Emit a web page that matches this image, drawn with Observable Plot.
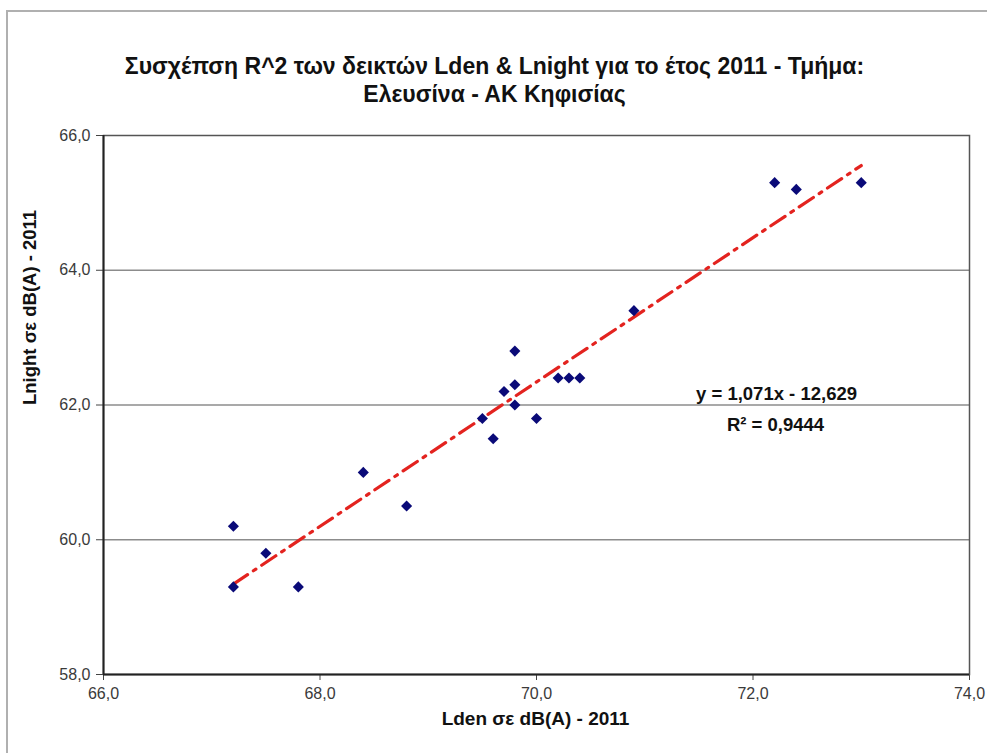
<!DOCTYPE html>
<html>
<head>
<meta charset="utf-8">
<script src="https://cdn.jsdelivr.net/npm/d3@7"></script>
<script src="https://cdn.jsdelivr.net/npm/@observablehq/plot@0.6"></script>
<style>
  html, body { margin: 0; padding: 0; background: #fff; }
  #wrap { position: relative; width: 987px; height: 753px; overflow: hidden; }
  #border { position: absolute; left: 6px; top: 10px; width: 1100px; height: 900px; border: 2px solid #b0b0b0; box-sizing: border-box; pointer-events: none; }
</style>
</head>
<body>
<div id="wrap"><div id="border"></div></div>
<script>
const titleLines = ["Συσχέπση R^2 των δεικτών Lden & Lnight για το έτος 2011 - Τμήμα:", "Ελευσίνα - ΑΚ Κηφισίας"];
const xLabel = "Lden σε dB(A) - 2011";
const yLabel = "Lnight σε dB(A) - 2011";
const xTicks = [66, 68, 70, 72, 74];
const yTicks = [58, 60, 62, 64, 66];
const gridY = [60, 62, 64];

const lden =   [67.2, 67.2, 67.5, 67.8, 68.4, 68.8, 69.5, 69.6, 69.7, 69.8, 69.8, 69.8, 70.0, 70.2, 70.3, 70.4, 70.9, 72.2, 72.4, 73.0];
const lnight = [60.2, 59.3, 59.8, 59.3, 61.0, 60.5, 61.8, 61.5, 62.2, 62.3, 62.8, 62.0, 61.8, 62.4, 62.4, 62.4, 63.4, 65.3, 65.2, 65.3];

const slope = 1.071;
const intercept = -12.629;
const r2 = 0.9444;

const points = lden.map((x, i) => ({x, y: lnight[i]}));
const xMin = d3.min(lden), xMax = d3.max(lden);
const trend = [xMin, xMax].map(x => ({x, y: slope * x + intercept}));
const fmt = d => d.toFixed(1).replace(".", ",");
const fmt3 = d => Math.abs(d).toFixed(3).replace(".", ",");
const eq1 = `y = ${fmt3(slope)}x - ${fmt3(intercept)}`;
const eq2 = `R² = ${String(r2).replace(".", ",")}`;

const font = "'Liberation Sans', Arial, sans-serif";

const chart = Plot.plot({
  width: 987,
  height: 753,
  marginLeft: 103,
  marginRight: 18,
  marginTop: 135,
  marginBottom: 79,
  style: {fontFamily: font, fontSize: "16px", color: "#333", background: "transparent"},
  x: {domain: [66, 74]},
  y: {domain: [58, 66]},
  marks: [
    Plot.ruleY(gridY, {stroke: "#8c8c8c", strokeWidth: 1.5}),
    Plot.axisX({ticks: xTicks, tickFormat: fmt, tickSize: 6, tickPadding: 7, label: null, fontSize: 16, fill: "#3a3a3a", stroke: "#444"}),
    Plot.axisY({ticks: yTicks, tickFormat: fmt, tickSize: 7, tickPadding: 6, label: null, fontSize: 16, fill: "#3a3a3a", stroke: "#444"}),
    Plot.frame({stroke: "#555", strokeWidth: 1.5}),
    Plot.ruleX([66], {stroke: "#222", strokeWidth: 2}),
    Plot.ruleY([58], {stroke: "#222", strokeWidth: 2}),
    Plot.line(trend, {x: "x", y: "y", stroke: "#e3231f", strokeWidth: 3.2, strokeDasharray: "17,7,3,7"}),
    Plot.dot(points, {x: "x", y: "y", symbol: "diamond2", r: 5, fill: "#0a0a78", stroke: "none"}),
    Plot.text([titleLines[0]], {frameAnchor: "top", dx: -42, dy: -78, fontSize: 23, fontWeight: "bold", fill: "#111"}),
    Plot.text([titleLines[1]], {frameAnchor: "top", dx: -42, dy: -50, fontSize: 23, fontWeight: "bold", fill: "#111"}),
    Plot.text([xLabel], {frameAnchor: "bottom", dx: -1, dy: 50, fontSize: 19, fontWeight: "bold", fill: "#111"}),
    Plot.text([yLabel], {frameAnchor: "left", rotate: -90, dx: -73, dy: 0, fontSize: 18.5, fontWeight: "bold", fill: "#111"}),
    Plot.text([eq1], {frameAnchor: "middle", dx: 240, dy: -11, fontSize: 18.5, fontWeight: "bold", fill: "#111"}),
    Plot.text([eq2], {frameAnchor: "middle", dx: 239, dy: 20, fontSize: 18.5, fontWeight: "bold", fill: "#111"})
  ]
});
document.getElementById("wrap").appendChild(chart);
</script>
</body>
</html>
